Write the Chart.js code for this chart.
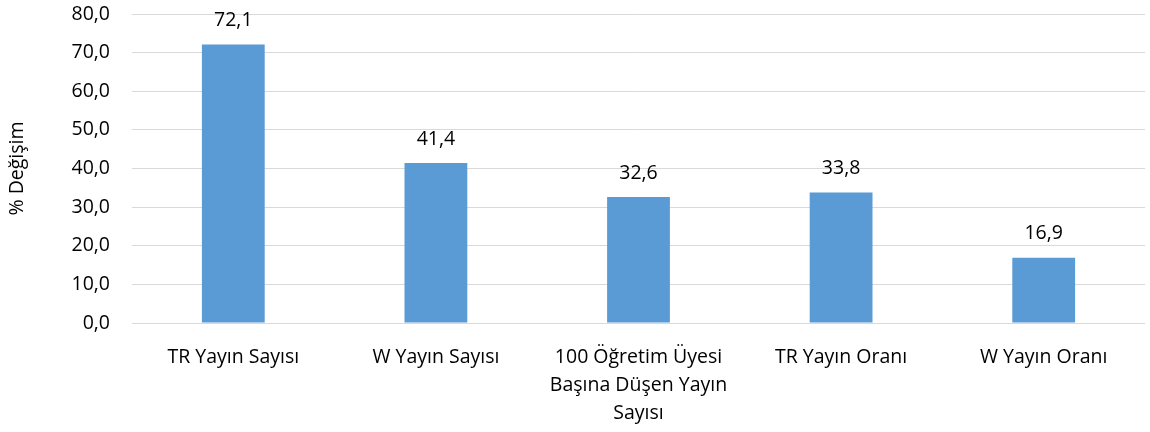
<!DOCTYPE html>
<html>
<head>
<meta charset="utf-8">
<script src="https://cdn.jsdelivr.net/npm/chart.js@4.4.0/dist/chart.umd.min.js"></script>
<style>
  html, body { margin: 0; padding: 0; background: #fff; }
</style>
</head>
<body>
<canvas id="chartCanvas" width="1150" height="432"></canvas>
<script>
// --- Data ---
const categories = [
  "TR Yayın Sayısı",
  "W Yayın Sayısı",
  ["100 Öğretim Üyesi", "Başına Düşen Yayın", "Sayısı"],
  "TR Yayın Oranı",
  "W Yayın Oranı"
];
const changeValues = [72.1, 41.4, 32.6, 33.8, 16.9];
const yTicks = [0, 10, 20, 30, 40, 50, 60, 70, 80];

const FONT = "'Open Sans', 'Liberation Sans', sans-serif";
const fmt = v => v.toFixed(1).replace(".", ",");

// --- Value labels above bars ---
const valueLabels = {
  id: "valueLabels",
  afterDatasetsDraw(chart) {
    const ctx = chart.ctx;
    const meta = chart.getDatasetMeta(0);
    ctx.save();
    ctx.font = "19.5px " + FONT;
    ctx.fillStyle = "#000";
    ctx.textAlign = "center";
    ctx.textBaseline = "middle";
    meta.data.forEach((bar, i) => {
      ctx.fillText(fmt(changeValues[i]), bar.x, bar.y - 24);
    });
    ctx.restore();
  }
};

const ctx = document.getElementById("chartCanvas").getContext("2d");
new Chart(ctx, {
  type: "bar",
  data: {
    labels: categories,
    datasets: [{
      data: changeValues,
      backgroundColor: "#5b9bd5",
      borderWidth: 0,
      barPercentage: 0.62,
      categoryPercentage: 0.5
    }]
  },
  options: {
    responsive: false,
    animation: false,
    layout: { padding: { top: 14, right: 5, left: 0, bottom: 0 } },
    plugins: {
      legend: { display: false },
      tooltip: { enabled: false }
    },
    scales: {
      x: {
        grid: { display: false },
        border: { display: false },
        ticks: {
          color: "#000",
          font: { family: FONT, size: 19.5, lineHeight: 1.42 },
          padding: 13,
          maxRotation: 0,
          autoSkip: false
        },
        afterFit(scale) {
          scale.height = 109;
          scale.paddingLeft = 0;
          scale.paddingRight = 0;
        }
      },
      y: {
        min: 0,
        max: 80,
        afterBuildTicks(scale) { scale.ticks = yTicks.map(v => ({ value: v })); },
        grid: { color: "#d9d9d9", lineWidth: 1, drawTicks: false },
        border: { display: false },
        ticks: {
          color: "#000",
          font: { family: FONT, size: 19.5 },
          padding: 22,
          callback: v => fmt(v)
        },
        title: {
          display: true,
          text: "% Değişim",
          color: "#000",
          font: { family: FONT, size: 19.5 },
          padding: { top: 6, bottom: 0 }
        },
        afterFit(scale) {
          scale.width = 132;
          scale.paddingTop = 0;
          scale.paddingBottom = 0;
        }
      }
    }
  },
  plugins: [valueLabels]
});
</script>
</body>
</html>
